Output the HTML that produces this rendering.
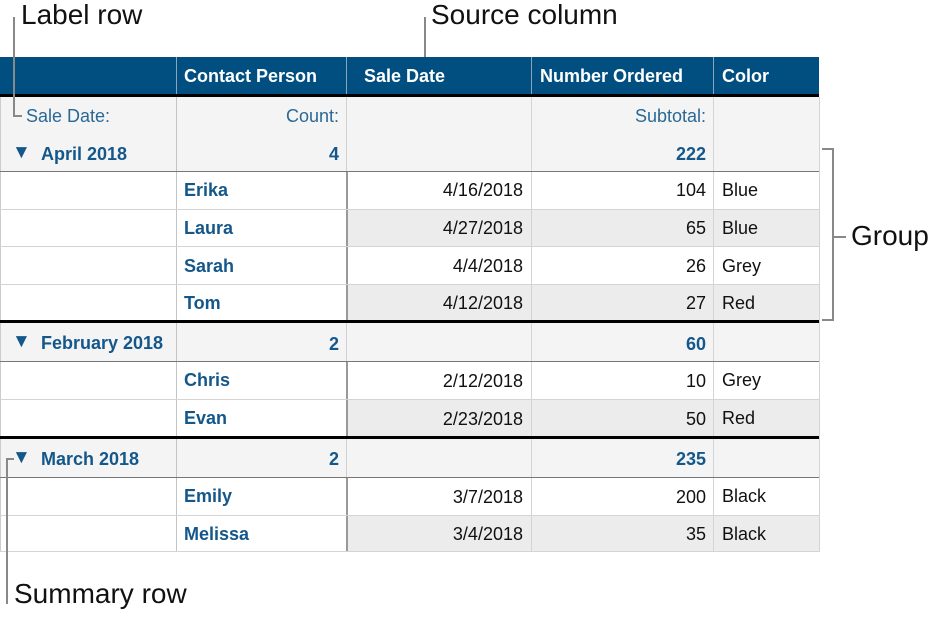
<!DOCTYPE html>
<html><head><meta charset="utf-8"><style>
body{margin:0;width:942px;height:620px;background:#fff;position:relative;overflow:hidden;font-family:"Liberation Sans",Arial,sans-serif;}
.a{position:absolute;}
.r{position:absolute;left:0;width:819px;}
.t{position:absolute;font-size:18px;line-height:20px;white-space:nowrap;}
.b{font-weight:bold;color:#14578a;}
.n{color:#111;}
.lbl{color:#2a6896;}
.rt{text-align:right;}
.ann{position:absolute;font-size:28px;color:#111;line-height:30px;}
.g{background:#888;position:absolute;}
.tri{font-size:19px;color:#14578a;}
</style></head><body>
<div class="r" style="top:57px;height:37px;background:#004f80;"></div>
<div class="a" style="left:176px;top:57px;width:1px;height:37px;background:#8aa6bd"></div>
<div class="a" style="left:346px;top:57px;width:1px;height:37px;background:#8aa6bd"></div>
<div class="a" style="left:531px;top:57px;width:1px;height:37px;background:#8aa6bd"></div>
<div class="a" style="left:713px;top:57px;width:1px;height:37px;background:#8aa6bd"></div>
<div class="t" style="left:184px;top:66px;color:#fff;font-weight:bold">Contact Person</div>
<div class="t" style="left:364px;top:66px;color:#fff;font-weight:bold">Sale Date</div>
<div class="t" style="left:540px;top:66px;color:#fff;font-weight:bold">Number Ordered</div>
<div class="t" style="left:722px;top:66px;color:#fff;font-weight:bold">Color</div>
<div class="r" style="top:94px;height:3px;background:#000"></div>

<div class="r" style="top:97px;height:74px;background:#f4f4f4"></div>
<div class="r" style="top:323px;height:38px;background:#f4f4f4"></div>
<div class="r" style="top:439px;height:38px;background:#f4f4f4"></div>
<div class="a" style="left:346px;width:473px;top:209px;height:37px;background:#ececec"></div>
<div class="a" style="left:346px;width:473px;top:284px;height:36px;background:#ececec"></div>
<div class="a" style="left:346px;width:473px;top:399px;height:37px;background:#ececec"></div>
<div class="a" style="left:346px;width:473px;top:515px;height:37px;background:#ececec"></div>

<div class="a" style="left:0;top:97px;width:1px;height:455px;background:#ccc"></div>
<div class="a" style="left:176px;top:97px;width:1px;height:455px;background:#c4c4c4"></div>
<div class="a" style="left:346px;top:97px;width:1px;height:74px;background:#d0d0d0"></div>
<div class="a" style="left:346px;top:171px;width:2px;height:149px;background:#999"></div>
<div class="a" style="left:346px;top:323px;width:1px;height:38px;background:#d0d0d0"></div>
<div class="a" style="left:346px;top:361px;width:2px;height:75px;background:#999"></div>
<div class="a" style="left:346px;top:439px;width:1px;height:38px;background:#d0d0d0"></div>
<div class="a" style="left:346px;top:477px;width:2px;height:75px;background:#999"></div>
<div class="a" style="left:531px;top:97px;width:1px;height:455px;background:#d4d4d4"></div>
<div class="a" style="left:713px;top:97px;width:1px;height:455px;background:#d4d4d4"></div>
<div class="a" style="left:819px;top:97px;width:1px;height:455px;background:#d4d4d4"></div>

<div class="r" style="top:171px;height:1px;background:#777"></div>
<div class="r" style="top:209px;height:1px;background:#d4d4d4"></div>
<div class="r" style="top:246px;height:1px;background:#d4d4d4"></div>
<div class="r" style="top:284px;height:1px;background:#d4d4d4"></div>
<div class="r" style="top:320px;height:3px;background:#000"></div>
<div class="r" style="top:361px;height:1px;background:#777"></div>
<div class="r" style="top:399px;height:1px;background:#d4d4d4"></div>
<div class="r" style="top:436px;height:3px;background:#000"></div>
<div class="r" style="top:477px;height:1px;background:#777"></div>
<div class="r" style="top:515px;height:1px;background:#d4d4d4"></div>
<div class="r" style="top:551px;height:1px;background:#d4d4d4"></div>

<div class="t lbl" style="left:26px;top:106px">Sale Date:</div>
<div class="t lbl rt" style="left:180px;width:159px;top:106px">Count:</div>
<div class="t lbl rt" style="left:535px;width:171px;top:106px">Subtotal:</div>

<div class="t tri" style="left:12px;top:143px">▼</div>
<div class="t b" style="left:41px;top:144px">April 2018</div>
<div class="t b rt" style="left:180px;width:159px;top:144px">4</div>
<div class="t b rt" style="left:535px;width:171px;top:144px">222</div>

<div class="t b" style="left:184px;top:180px">Erika</div>
<div class="t n rt" style="left:350px;width:173px;top:180px">4/16/2018</div>
<div class="t n rt" style="left:535px;width:171px;top:180px">104</div>
<div class="t n" style="left:722px;top:180px">Blue</div>

<div class="t b" style="left:184px;top:218px">Laura</div>
<div class="t n rt" style="left:350px;width:173px;top:218px">4/27/2018</div>
<div class="t n rt" style="left:535px;width:171px;top:218px">65</div>
<div class="t n" style="left:722px;top:218px">Blue</div>

<div class="t b" style="left:184px;top:256px">Sarah</div>
<div class="t n rt" style="left:350px;width:173px;top:256px">4/4/2018</div>
<div class="t n rt" style="left:535px;width:171px;top:256px">26</div>
<div class="t n" style="left:722px;top:256px">Grey</div>

<div class="t b" style="left:184px;top:293px">Tom</div>
<div class="t n rt" style="left:350px;width:173px;top:293px">4/12/2018</div>
<div class="t n rt" style="left:535px;width:171px;top:293px">27</div>
<div class="t n" style="left:722px;top:293px">Red</div>

<div class="t tri" style="left:12px;top:332px">▼</div>
<div class="t b" style="left:41px;top:333px">February 2018</div>
<div class="t b rt" style="left:180px;width:159px;top:334px">2</div>
<div class="t b rt" style="left:535px;width:171px;top:334px">60</div>

<div class="t b" style="left:184px;top:370px">Chris</div>
<div class="t n rt" style="left:350px;width:173px;top:371px">2/12/2018</div>
<div class="t n rt" style="left:535px;width:171px;top:371px">10</div>
<div class="t n" style="left:722px;top:370px">Grey</div>

<div class="t b" style="left:184px;top:408px">Evan</div>
<div class="t n rt" style="left:350px;width:173px;top:409px">2/23/2018</div>
<div class="t n rt" style="left:535px;width:171px;top:409px">50</div>
<div class="t n" style="left:722px;top:408px">Red</div>

<div class="t tri" style="left:12px;top:448px">▼</div>
<div class="t b" style="left:41px;top:449px">March 2018</div>
<div class="t b rt" style="left:180px;width:159px;top:449px">2</div>
<div class="t b rt" style="left:535px;width:171px;top:449px">235</div>

<div class="t b" style="left:184px;top:486px">Emily</div>
<div class="t n rt" style="left:350px;width:173px;top:487px">3/7/2018</div>
<div class="t n rt" style="left:535px;width:171px;top:487px">200</div>
<div class="t n" style="left:722px;top:486px">Black</div>

<div class="t b" style="left:184px;top:524px">Melissa</div>
<div class="t n rt" style="left:350px;width:173px;top:524px">3/4/2018</div>
<div class="t n rt" style="left:535px;width:171px;top:524px">35</div>
<div class="t n" style="left:722px;top:524px">Black</div>

<div class="ann" style="left:21px;top:0px">Label row</div>
<div class="g" style="left:13px;top:17px;width:2px;height:100px"></div>
<div class="g" style="left:13px;top:115px;width:9px;height:2px"></div>

<div class="ann" style="left:431px;top:0px">Source column</div>
<div class="g" style="left:424px;top:17px;width:2px;height:40px"></div>

<div class="ann" style="left:851px;top:221px">Group</div>
<div class="g" style="left:822px;top:148px;width:11px;height:2px"></div>
<div class="g" style="left:832px;top:148px;width:2px;height:173px"></div>
<div class="g" style="left:822px;top:319px;width:11px;height:2px"></div>
<div class="g" style="left:833px;top:236px;width:13px;height:2px"></div>

<div class="ann" style="left:14px;top:579px">Summary row</div>
<div class="g" style="left:6px;top:458px;width:2px;height:146px"></div>
<div class="g" style="left:6px;top:458px;width:8px;height:2px"></div>
</body></html>
